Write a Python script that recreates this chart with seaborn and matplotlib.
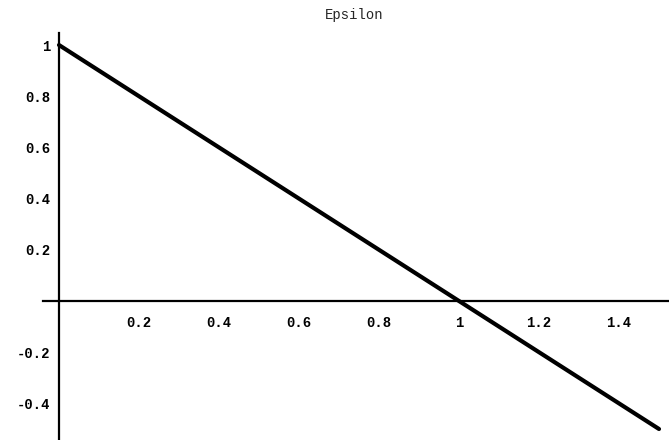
import matplotlib
matplotlib.use("Agg")
import matplotlib.pyplot as plt
import seaborn as sns
import pandas as pd

# data
x_vals = [0.0, 0.5, 1.0, 1.5]
epsilon = [1.0, 0.5, 0.0, -0.5]
x_ticks = [0.2, 0.4, 0.6, 0.8, 1.0, 1.2, 1.4]
x_tick_labels = ["0.2", "0.4", "0.6", "0.8", "1", "1.2", "1.4"]
y_ticks = [-0.4, -0.2, 0.2, 0.4, 0.6, 0.8, 1.0]
y_tick_labels = ["-0.4", "-0.2", "0.2", "0.4", "0.6", "0.8", "1"]
title = "Epsilon"

sns.set_style("white")
plt.rcParams["font.family"] = ["Liberation Mono", "DejaVu Sans Mono"]

fig = plt.figure(figsize=(6.69, 4.40), dpi=100)
ax = fig.add_axes([43/669, 0.0, 626/669, 407/440])

df = pd.DataFrame({"x": x_vals, "eps": epsilon})
sns.lineplot(data=df, x="x", y="eps", ax=ax, color="black", linewidth=3.0,
             solid_capstyle="round")

ax.set_xlim(-0.04, 1.525)
ax.set_ylim(-0.543, 1.047)

for s in ["top", "right"]:
    ax.spines[s].set_visible(False)
ax.spines["left"].set_position(("data", 0))
ax.spines["bottom"].set_position(("data", 0))
ax.spines["left"].set_linewidth(1.6)
ax.spines["bottom"].set_linewidth(1.6)
ax.spines["left"].set_color("black")
ax.spines["bottom"].set_color("black")

ax.set_xticks(x_ticks)
ax.set_xticklabels(x_tick_labels)
ax.set_yticks(y_ticks)
ax.set_yticklabels(y_tick_labels)
ax.tick_params(axis="x", direction="in", length=4, width=1, pad=11,
               labelsize=10, colors="black")
ax.tick_params(axis="y", direction="in", length=4, width=1, pad=6,
               labelsize=10, colors="black")
for lbl in ax.get_xticklabels() + ax.get_yticklabels():
    lbl.set_fontweight("bold")

ax.set_xlabel("")
ax.set_ylabel("")
ax.grid(False)

fig.text(354/669, 1 - 15/440, title, ha="center", va="center",
         fontsize=10, family=["Liberation Mono", "DejaVu Sans Mono"])

fig.savefig("out.png", dpi=100)
